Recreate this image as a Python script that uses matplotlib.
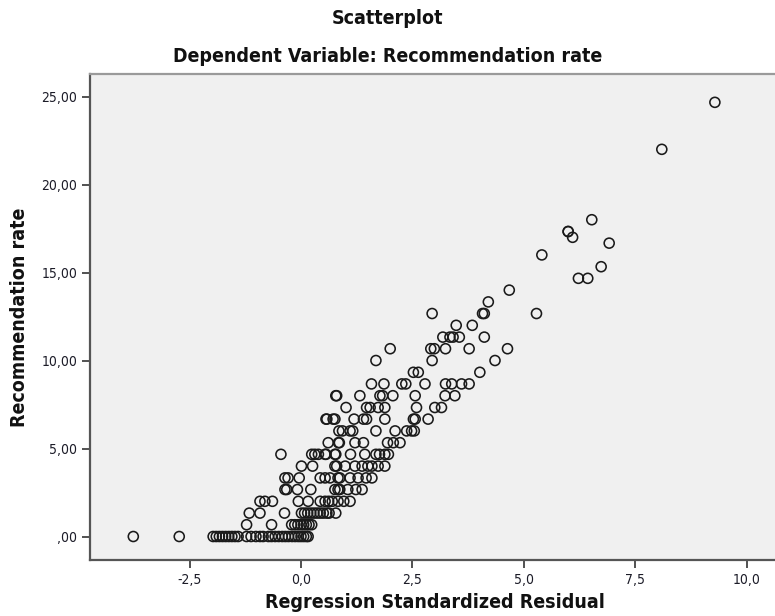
import matplotlib
matplotlib.use("Agg")
import matplotlib.pyplot as plt
from matplotlib import font_manager
import numpy as np

# ---- data ----
resid_0 = [-3.76, -2.73, -1.97, -1.90, -1.83, -1.76, -1.69, -1.62, -1.55, -1.48, -1.41,
           -1.22, -1.12, -1.01, -0.92, -0.85,
           -0.73, -0.66, -0.58, -0.50, -0.42, -0.35, -0.28, -0.20, -0.13, -0.06, 0.00, 0.06, 0.12, 0.16]
resid_067 = [-1.22, -0.66, -0.21, -0.14, -0.07, 0.00, 0.06, 0.12, 0.18, 0.24]
resid_133 = [-1.16, -0.92, -0.37, 0.01, 0.08, 0.15, 0.22, 0.29, 0.36, 0.43, 0.50, 0.58, 0.63, 0.78]
resid_200 = [-0.92, -0.81, -0.64, -0.06, 0.16, 0.43, 0.54, 0.62, 0.70, 0.83, 0.96, 1.10]
resid_267 = [-0.36, -0.32, -0.08, 0.22, 0.76, 0.83, 0.87, 1.05, 1.23, 1.37]
resid_333 = [-0.36, -0.29, -0.04, 0.43, 0.54, 0.65, 0.83, 0.87, 1.10, 1.28, 1.46, 1.59]
resid_400 = [0.01, 0.26, 0.76, 0.80, 0.99, 1.21, 1.37, 1.50, 1.59, 1.73, 1.88]
resid_467 = [-0.45, 0.24, 0.31, 0.39, 0.54, 0.56, 0.76, 0.78, 1.11, 1.43, 1.68, 1.76, 1.88, 1.96]
resid_533 = [0.61, 0.84, 0.86, 1.21, 1.40, 1.94, 2.07, 2.22]
resid_600 = [0.85, 0.93, 1.10, 1.16, 1.68, 2.11, 2.37, 2.48, 2.54]
resid_667 = [0.56, 0.58, 0.72, 0.76, 1.19, 1.40, 1.47, 1.88, 2.52, 2.56, 2.85]
resid_733 = [1.01, 1.47, 1.55, 1.73, 1.88, 2.59, 3.00, 3.15]
resid_800 = [0.78, 0.80, 1.32, 1.77, 1.83, 2.06, 2.56, 3.23, 3.45]
resid_867 = [1.58, 1.86, 2.26, 2.35, 2.78, 3.24, 3.38, 3.60, 3.77]
resid_933 = [2.52, 2.63, 4.01]
resid_1000 = [1.68, 2.94, 4.35]
resid_1067 = [2.00, 2.91, 2.99, 3.24, 3.77, 4.63]
resid_1133 = [3.18, 3.34, 3.41, 3.55, 4.11]
resid_1200 = [3.48, 3.84]
resid_1267 = [2.94, 4.07, 4.11, 5.28]
resid_1333 = [4.20]
resid_1400 = [4.67]
resid_high = [6.22, 6.43, 6.73, 5.40, 6.91, 6.09, 5.99, 5.99, 6.52, 8.09, 9.28]
rate_high = [14.67, 14.67, 15.33, 16.00, 16.67, 17.00, 17.33, 17.33, 18.00, 22.00, 24.67]

row_levels = [0.0, 0.67, 1.33, 2.0, 2.67, 3.33, 4.0, 4.67, 5.33, 6.0, 6.67, 7.33,
              8.0, 8.67, 9.33, 10.0, 10.67, 11.33, 12.0, 12.67, 13.33, 14.0]
row_resids = [resid_0, resid_067, resid_133, resid_200, resid_267, resid_333, resid_400,
              resid_467, resid_533, resid_600, resid_667, resid_733, resid_800, resid_867,
              resid_933, resid_1000, resid_1067, resid_1133, resid_1200, resid_1267,
              resid_1333, resid_1400]

x_ticks = [-2.5, 0.0, 2.5, 5.0, 7.5, 10.0]
x_tick_labels = ["-2,5", "0,0", "2,5", "5,0", "7,5", "10,0"]
y_ticks = [0, 5, 10, 15, 20, 25]
y_tick_labels = [",00", "5,00", "10,00", "15,00", "20,00", "25,00"]

xs = []
ys = []
for lvl, rs in zip(row_levels, row_resids):
    xs.extend(rs)
    ys.extend([lvl] * len(rs))
xs.extend(resid_high)
ys.extend(rate_high)

# ---- fonts ----
names = {f.name for f in font_manager.fontManager.ttflist}
if "DejaVu Sans Condensed" in names:
    tfont = dict(family="DejaVu Sans Condensed")
else:
    tfont = dict(family="DejaVu Sans", stretch="condensed")
tsize = 14

# ---- figure ----
W, H = 775, 616
fig = plt.figure(figsize=(W / 100, H / 100), dpi=100)
fig.patch.set_facecolor("white")
ax = fig.add_axes([90 / W, (H - 560) / H, 690 / W, 486 / H])
ax.set_facecolor("#f0f0f0")

ax.scatter(xs, ys, s=52, facecolors="none", edgecolors="#1a1a1a", linewidths=1.15, zorder=3)

ax.set_xlim(-4.731, 10.74)
ax.set_ylim(-1.335, 26.28)

ax.set_xticks(x_ticks)
ax.set_xticklabels(x_tick_labels)
ax.set_yticks(y_ticks)
ax.set_yticklabels(y_tick_labels)
ax.tick_params(axis="both", direction="out", length=6, width=1.2, color="#333333",
               labelsize=10, labelcolor="#1c1c28", pad=3)
for lab in ax.get_xticklabels() + ax.get_yticklabels():
    lab.set_fontfamily(tfont["family"])
    if "stretch" in tfont:
        lab.set_fontstretch(tfont["stretch"])

for side in ["left", "bottom"]:
    ax.spines[side].set_color("#555555")
    ax.spines[side].set_linewidth(1.6)
ax.spines["top"].set_color("#9a9a9a")
ax.spines["top"].set_linewidth(1.6)
ax.spines["right"].set_visible(False)

fig.text(387.5 / W, 1 - 19 / H, "Scatterplot", ha="center", va="center",
         fontsize=tsize, fontweight="bold", color="#111111", **tfont)
fig.text(387.5 / W, 1 - 57 / H, "Dependent Variable: Recommendation rate", ha="center",
         va="center", fontsize=tsize, fontweight="bold", color="#111111", **tfont)
fig.text(435 / W, 1 - 602 / H, "Regression Standardized Residual", ha="center",
         va="center", fontsize=tsize, fontweight="bold", color="#111111", **tfont)
fig.text(20 / W, 1 - 317 / H, "Recommendation rate", ha="center", va="center",
         rotation=90, fontsize=tsize, fontweight="bold", color="#111111", **tfont)

fig.savefig("out.png", dpi=100)
